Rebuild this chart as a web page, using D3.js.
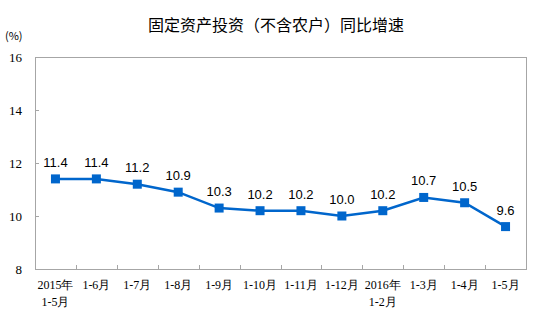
<!DOCTYPE html>
<html><head><meta charset="utf-8">
<script src="https://cdn.jsdelivr.net/npm/d3@7"></script>
<style>body{margin:0;background:#fff}</style>
</head><body>
<svg id="c" width="552" height="322"></svg>
<script>
const categories = [["2015年","1-5月"],["1-6月"],["1-7月"],["1-8月"],["1-9月"],["1-10月"],["1-11月"],["1-12月"],["2016年","1-2月"],["1-3月"],["1-4月"],["1-5月"]];
const values = [11.4,11.4,11.2,10.9,10.3,10.2,10.2,10.0,10.2,10.7,10.5,9.6];
const yTicks = [8,10,12,14,16];
const title = "固定资产投资（不含农户）同比增速";
const unit = "(%)";

const svg = d3.select("#c");
const L=35, R=526, T=57, B=269;
const x = d3.scaleBand().domain(d3.range(categories.length)).range([L,R]);
const y = d3.scaleLinear().domain([8,16]).range([B,T]);
const grey="#a6a6a6", blue="#0066cc";
const cjk = "'Noto Sans CJK SC','Noto Sans',sans-serif";
const serif = "'Liberation Serif','Times New Roman',serif";

svg.append("text").attr("x",276).attr("y",31).attr("text-anchor","middle")
  .attr("font-family",cjk).attr("font-size",16).attr("fill","#000").text(title);
svg.append("text").attr("x",5).attr("y",40).attr("font-family",cjk).attr("font-size",11).attr("fill","#000").text(unit);

// frame
svg.append("rect").attr("x",L).attr("y",T).attr("width",R-L).attr("height",B-T)
  .attr("fill","none").attr("stroke",grey).attr("stroke-width",1).attr("shape-rendering","crispEdges");

// y axis
const ya = svg.append("g").attr("transform",`translate(${L},0)`)
  .call(d3.axisLeft(y).tickValues(yTicks).tickSize(-4).tickPadding(13));
ya.select(".domain").remove();
ya.selectAll("line").attr("stroke",grey).attr("shape-rendering","crispEdges");
ya.selectAll("text").attr("font-family",serif).attr("font-size",13).attr("fill","#000");

// x ticks at band boundaries
const bounds = d3.range(1,categories.length).map(i=>x(i));
svg.append("g").selectAll("line").data(bounds).join("line")
  .attr("x1",d=>Math.round(d)+0.5).attr("x2",d=>Math.round(d)+0.5).attr("y1",B).attr("y2",B-4)
  .attr("stroke",grey);

// x labels
const xl = svg.append("g");
categories.forEach((c,i)=>{
  const t = xl.append("text").attr("x",x(i)+x.bandwidth()/2).attr("y",289)
    .attr("text-anchor","middle").attr("font-family",serif).attr("font-size",12).attr("fill","#000");
  c.forEach((s,j)=>t.append("tspan").attr("x",x(i)+x.bandwidth()/2).attr("dy",j?17:0).text(s));
});

const cx = i=>x(i)+x.bandwidth()/2;
svg.append("path").datum(values)
  .attr("d",d3.line().x((d,i)=>cx(i)).y(d=>y(d)))
  .attr("fill","none").attr("stroke",blue).attr("stroke-width",2.5);
svg.append("g").selectAll("rect").data(values).join("rect")
  .attr("x",(d,i)=>cx(i)-4.5).attr("y",d=>y(d)-4.5).attr("width",9).attr("height",9).attr("fill",blue);
svg.append("g").selectAll("text").data(values).join("text")
  .attr("x",(d,i)=>cx(i)).attr("y",d=>y(d)-12).attr("text-anchor","middle")
  .attr("font-family","'Liberation Sans',Arial,sans-serif").attr("font-size",13).attr("fill","#000")
  .text(d=>d.toFixed(1));
</script>
</body></html>
